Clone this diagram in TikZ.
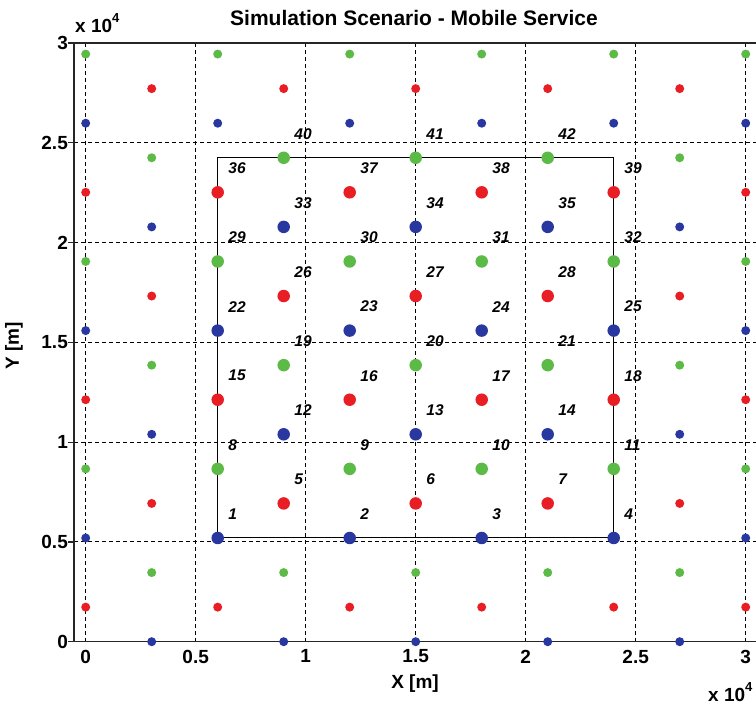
\documentclass[tikz,border=0pt]{standalone}
\usepackage{fontspec}
\setmainfont{Liberation Sans}
\usepackage{tikz}
\definecolor{site0}{RGB}{40,56,160}
\definecolor{site1}{RGB}{232,30,36}
\definecolor{site2}{RGB}{92,186,70}
\tikzstyle{site}=[circle, inner sep=0pt, minimum size=9pt]
\tikzstyle{cell}=[circle, inner sep=0pt, minimum size=12.5pt]
\tikzset{gridline/.style={line width=0.9pt, dash pattern=on 4pt off 3pt}}
\tikzset{axisbox/.style={line width=1.2pt, black!85}}
\tikzset{ticklab/.style={inner sep=0pt, font=\fontsize{19}{19}\selectfont\bfseries}}
\tikzset{celllabel/.style={inner sep=0pt, anchor=west, font=\fontsize{15.5}{16}\selectfont\bfseries\itshape}}
\newcount\cellno

\begin{document}
\begin{tikzpicture}[x=1pt,y=1pt]
  \useasboundingbox (0,0) rectangle (756,707);
  \fill[white] (0,0) rectangle (756,707);
  \node[ticklab, font=\fontsize{21}{21}\selectfont\bfseries] (title) at (414,689) {Simulation Scenario - Mobile Service};
  \node[ticklab] (xlab) at (415,23) {X [m]};
  \node[ticklab, rotate=90] (ylab) at (14,361) {Y [m]};
  \node[ticklab, anchor=base west] (xexp) at (75,674) {x 10\raisebox{0.55em}{\fontsize{13}{13}\selectfont 4}};
  \node[ticklab, anchor=base west] (xexpb) at (708,5) {x 10\raisebox{0.55em}{\fontsize{13}{13}\selectfont 4}};

  \begin{scope}[shift={(85.7pt,65.3pt)}, x=220pt, y=199.57pt]
    \foreach \g in {0,...,6}
      \draw[gridline] (\g/2,0) -- (\g/2,3);
    \foreach \g in {1,...,5}
      \draw[gridline] (-0.053,\g/2) -- (3.053,\g/2);
    \draw[axisbox] (-0.053,0) rectangle (3.053,3);
    \foreach \v/\t in {0/0,0.5/0.5,1/1,1.5/1.5,2/2,2.5/2.5,3/3}{
      \draw[axisbox] (-0.053,\v) -- ++(-6pt,0);
      \node[ticklab, anchor=east] (yt\t) at ([xshift=-6pt]-0.053,\v) {\t};
      \node[ticklab, anchor=north] (xt\t) at ([yshift=-8pt]\v,0) {\t};
    }
    \coordinate (regsw) at (0.6,3*0.17321);
    \coordinate (regne) at (2.4,14*0.17321);
    \draw[line width=1pt] (regsw) rectangle (regne);

    \foreach \i in {0,...,10}{
      \pgfmathtruncatemacro\mone{mod(\i+1,2)}
      \pgfmathtruncatemacro\mtwo{\mone+2}
      \foreach \m in {\mone,\mtwo,...,17}{
        \pgfmathtruncatemacro\col{mod(\m,3)}
        \node[site, fill=site\col] (s\i-\m) at (0.3*\i,0.17321*\m) {};
      }
    }

    \global\cellno=0
    \foreach \m in {3,...,14}{
      \pgfmathtruncatemacro\ione{2+mod(\m+1,2)}
      \pgfmathtruncatemacro\itwo{\ione+2}
      \pgfmathtruncatemacro\col{mod(\m,3)}
      \foreach \i in {\ione,\itwo,...,8}{
        \global\advance\cellno by 1
        \pgfmathtruncatemacro\cnum{\the\cellno}
        \node[cell, fill=site\col] (cell\cnum) at (0.3*\i,0.17321*\m) {};
        \node[celllabel] (lab\cnum) at ([shift={(10.5pt,24pt)}]cell\cnum.center) {\cnum};
      }
    }
  \end{scope}
\end{tikzpicture}
\end{document}
